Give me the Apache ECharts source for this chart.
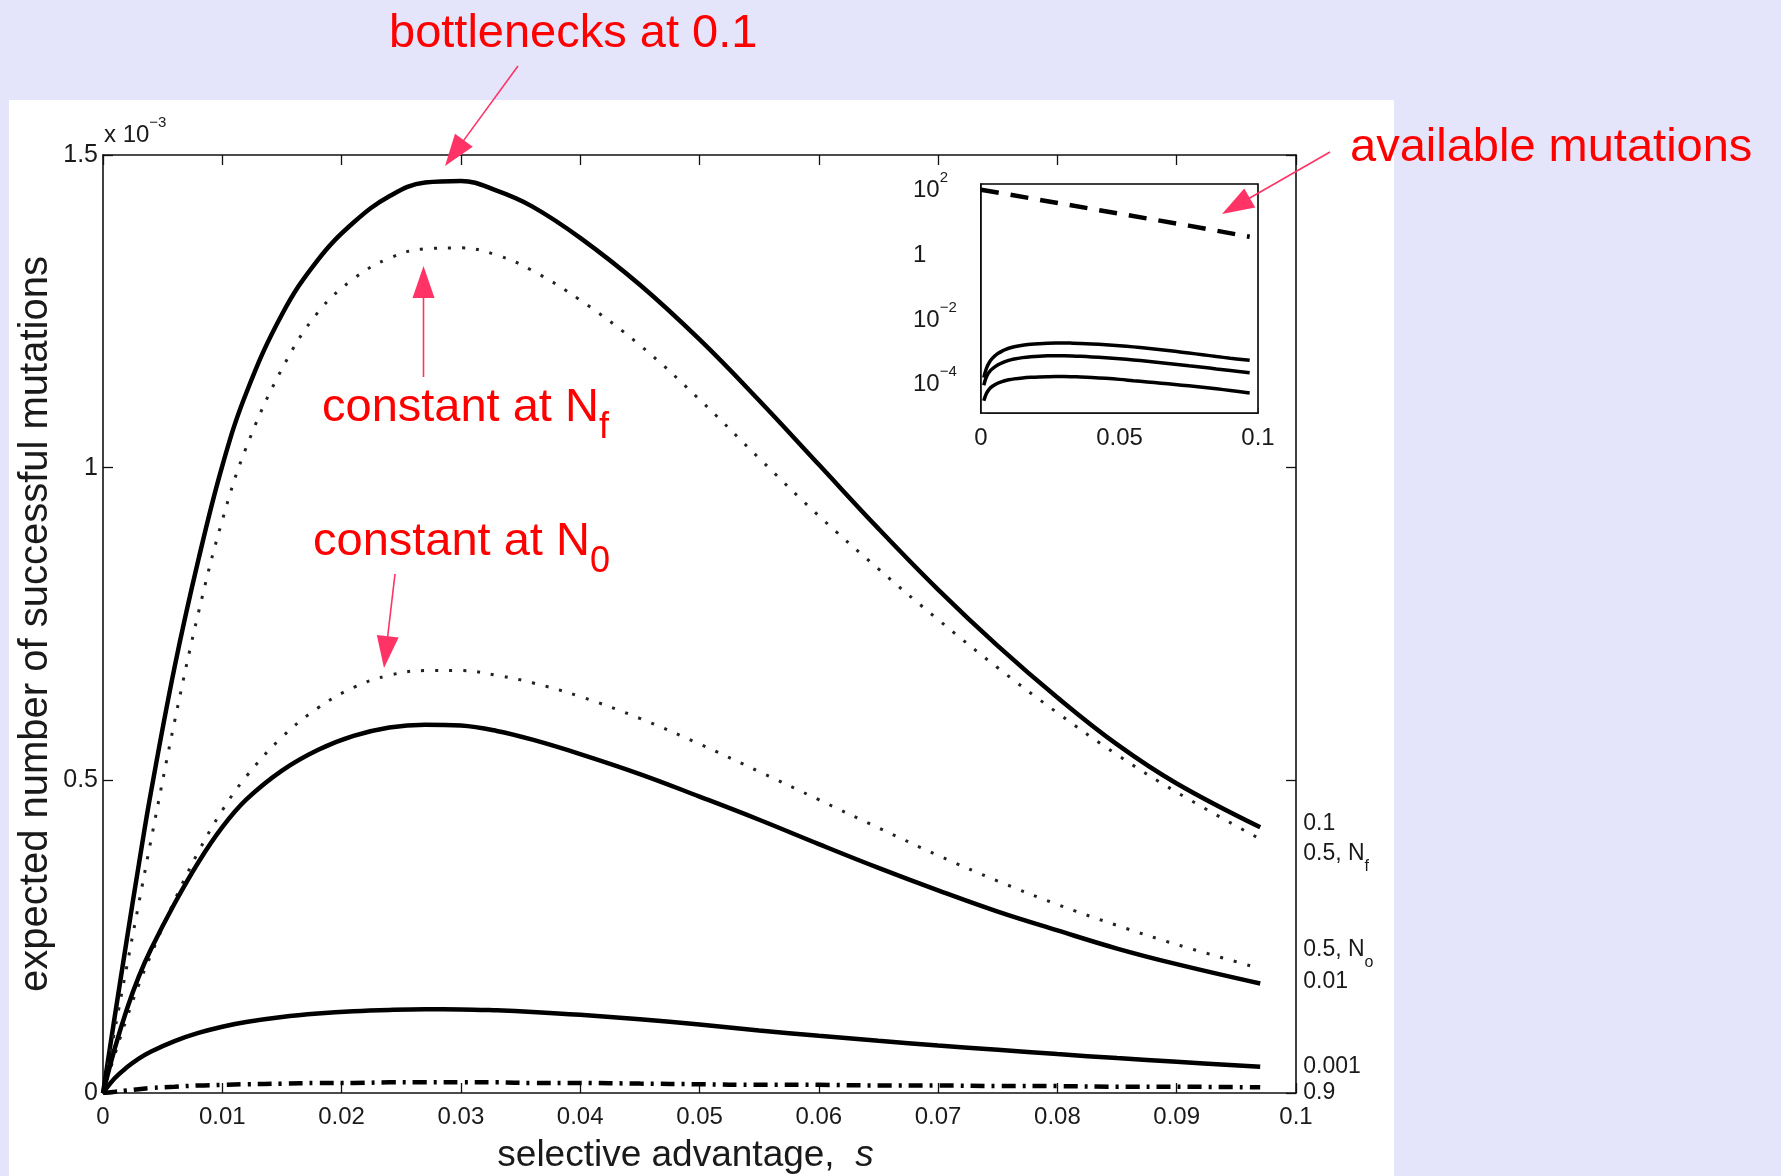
<!DOCTYPE html>
<html><head><meta charset="utf-8">
<script src="https://cdn.jsdelivr.net/npm/echarts@6/dist/echarts.min.js"></script>
<style>
html,body{margin:0;padding:0;background:#E4E4FA;}
#panel{position:absolute;left:9px;top:100px;width:1385px;height:1076px;background:#fff;}
#c{position:absolute;left:0;top:0;width:1781px;height:1176px;}
</style>
</head><body><div id="panel"></div><div id="c"></div>
<script>
// selective advantage s (x values)
const sValues = [0, 0.001, 0.002, 0.003, 0.004, 0.006, 0.008, 0.010, 0.012, 0.015, 0.018, 0.021, 0.024, 0.027, 0.030, 0.033, 0.036, 0.040, 0.045, 0.050, 0.055, 0.060, 0.065, 0.070, 0.075, 0.080, 0.085, 0.090, 0.097];
// expected number of successful mutations (x 10^-3)
const bottleneck01  = [0, 0.124, 0.246, 0.365, 0.479, 0.681, 0.853, 1.003, 1.119, 1.245, 1.332, 1.392, 1.434, 1.456, 1.4585, 1.443, 1.4175, 1.3675, 1.2925, 1.205, 1.1075, 1.005, 0.9025, 0.805, 0.715, 0.6325, 0.5575, 0.495, 0.425];
const constantNf    = [0, 0.102, 0.203, 0.303, 0.402, 0.594, 0.768, 0.916, 1.032, 1.158, 1.248, 1.302, 1.335, 1.35, 1.3515, 1.340, 1.315, 1.268, 1.196, 1.109, 1.015, 0.923, 0.838, 0.757, 0.680, 0.608, 0.541, 0.481, 0.406];
const constantN0    = [0, 0.062, 0.12, 0.173, 0.22, 0.308, 0.386, 0.452, 0.506, 0.569, 0.6155, 0.6485, 0.668, 0.6755, 0.6755, 0.668, 0.656, 0.634, 0.599, 0.558, 0.514, 0.469, 0.424, 0.38, 0.339, 0.3015, 0.268, 0.2375, 0.199];
const bottleneck001 = [0, 0.072, 0.134, 0.186, 0.229, 0.303, 0.369, 0.425, 0.469, 0.5155, 0.5485, 0.571, 0.5845, 0.589, 0.5875, 0.579, 0.565, 0.542, 0.51, 0.474, 0.437, 0.398, 0.36, 0.324, 0.29, 0.26, 0.231, 0.206, 0.175];
const bottleneck0001= [0, 0.024, 0.041, 0.055, 0.066, 0.083, 0.096, 0.106, 0.1135, 0.1215, 0.127, 0.1307, 0.1328, 0.1338, 0.1337, 0.1322, 0.1297, 0.1251, 0.1178, 0.1095, 0.1, 0.0915, 0.0835, 0.076, 0.069, 0.0622, 0.0558, 0.0498, 0.0418];
const bottleneck09  = [0, 0.002, 0.004, 0.006, 0.008, 0.010, 0.012, 0.013, 0.014, 0.015, 0.016, 0.016, 0.017, 0.017, 0.017, 0.017, 0.016, 0.016, 0.015, 0.014, 0.013, 0.013, 0.012, 0.012, 0.011, 0.011, 0.010, 0.010, 0.009];
// inset: available mutations
const insetS = [0, 0.025, 0.05, 0.075, 0.097];
const availableMutations = [80, 34, 14.5, 6.2, 2.8];
// labels
const endLabels = ['0.1', '{m|0.5, N}{s|f}', '{m|0.5, N}{s|o}', '0.01', '0.001', '0.9'];

const FONT = "'Liberation Sans', Arial, Helvetica, sans-serif";
const TXT = '#1a1a1a';
const RED = '#FF0000';
const ARW = '#FF3366';

const pair = arr => sValues.map((s, i) => [s, arr[i]]);
const pairLog = arr => sValues.map((s, i) => [s, arr[i] * 1e-3]).filter(p => p[1] > 0);

const solid = {type: 'solid', width: 4.5, color: '#000'};
const dotted = {type: [3, 11], width: 3, color: '#222', cap: 'butt'};
const dashdot = {type: [14, 7, 3, 7], width: 4.5, color: '#000'};

const labelRich = {
  m: {fontSize: 23, fontFamily: FONT, color: TXT, padding: [0, 0, 9, 0], verticalAlign: 'top'},
  s: {fontSize: 16, fontFamily: FONT, color: TXT, verticalAlign: 'bottom'}
};

function mainSeries(name, data, style, label, dy) {
  return {
    name, type: 'line', xAxisIndex: 0, yAxisIndex: 0, data: pair(data),
    symbol: 'none', smooth: 0.4, smoothConstraint: false, lineStyle: style, z: 3,
    endLabel: {show: true, formatter: label, distance: 43, offset: [0, dy],
      fontSize: 23, fontFamily: FONT, color: TXT, rich: labelRich}
  };
}
function insetSeries(data) {
  return {type: 'line', xAxisIndex: 2, yAxisIndex: 2, data: pairLog(data), symbol: 'none',
    smooth: 0.4, smoothConstraint: false, lineStyle: {type: 'solid', width: 3.5, color: '#000'}, z: 5};
}

function arrow(x1, y1, x2, y2) {
  const L = 32, W = 11;
  const dx = x2 - x1, dy = y2 - y1, d = Math.hypot(dx, dy);
  const ux = dx / d, uy = dy / d;
  const bx = x2 - ux * L, by = y2 - uy * L;
  return [
    {type: 'line', shape: {x1, y1, x2: bx + ux * 4, y2: by + uy * 4}, style: {stroke: ARW, lineWidth: 1.6}, z: 20},
    {type: 'polygon', shape: {points: [[x2, y2], [bx - uy * W, by + ux * W], [bx + uy * W, by - ux * W]]}, style: {fill: ARW}, z: 20}
  ];
}

const supRich = {
  b: {fontSize: 24, fontFamily: FONT, color: TXT, padding: [8, 0, 0, 0], verticalAlign: 'bottom'},
  e: {fontSize: 15, fontFamily: FONT, color: TXT, verticalAlign: 'top'}
};
const supRichG = {
  b: {fontSize: 24, fontFamily: FONT, fill: TXT, padding: [8, 0, 0, 0], verticalAlign: 'bottom'},
  e: {fontSize: 15, fontFamily: FONT, fill: TXT, verticalAlign: 'top'}
};
const redSubRich = {
  m: {fontSize: 47, fontFamily: FONT, fill: RED, padding: [0, 0, 14, 0], verticalAlign: 'top'},
  s: {fontSize: 36, fontFamily: FONT, fill: RED, verticalAlign: 'bottom'}
};

const axLine = {show: true, onZero: false, lineStyle: {color: '#111', width: 1.6}};
const axTick = {show: true, inside: true, length: 10, lineStyle: {color: '#111', width: 1.3}};
const inTick = {show: true, inside: true, length: 5, lineStyle: {color: '#999', width: 1}};

const chart = echarts.init(document.getElementById('c'), null, {renderer: 'canvas'});
chart.setOption({
  animation: false,
  backgroundColor: 'transparent',
  textStyle: {fontFamily: FONT},
  grid: [
    {left: 103, top: 155, width: 1193, height: 938, containLabel: false, outerBoundsMode: 'none'},
    {left: 981, top: 184, width: 277, height: 229, containLabel: false, outerBoundsMode: 'none',
     show: true, borderColor: '#000', borderWidth: 1.6, backgroundColor: '#fff', z: 4}
  ],
  xAxis: [
    {gridIndex: 0, type: 'value', min: 0, max: 0.1, interval: 0.01, position: 'bottom',
     axisLine: axLine, axisTick: axTick,
     axisLabel: {fontSize: 24, color: TXT, fontFamily: FONT, margin: 12},
     splitLine: {show: false},
     name: 'selective advantage,  {i|s}', nameLocation: 'middle', nameGap: 44, nameMoveOverlap: false,
     nameTextStyle: {fontSize: 37, color: TXT, fontFamily: FONT, padding: [0, 28, 0, 0],
       rich: {i: {fontSize: 37, fontStyle: 'italic', color: TXT, fontFamily: FONT}}}},
    {gridIndex: 0, type: 'value', min: 0, max: 0.1, interval: 0.01, position: 'top',
     axisLine: axLine, axisTick: axTick,
     axisLabel: {show: false}, splitLine: {show: false}},
    {gridIndex: 1, type: 'value', min: 0, max: 0.1, interval: 0.05,
     axisLine: axLine, axisTick: inTick,
     axisLabel: {fontSize: 24, color: TXT, fontFamily: FONT, margin: 13},
     splitLine: {show: false}}
  ],
  yAxis: [
    {gridIndex: 0, type: 'value', min: 0, max: 1.5, interval: 0.5, position: 'left',
     axisLine: axLine, axisTick: axTick,
     axisLabel: {fontSize: 25, color: TXT, fontFamily: FONT, margin: 5},
     splitLine: {show: false},
     name: 'expected number of successful mutations', nameLocation: 'middle', nameGap: 47, nameRotate: 90,
     nameMoveOverlap: false,
     nameTextStyle: {fontSize: 40, color: TXT, fontFamily: FONT}},
    {gridIndex: 0, type: 'value', min: 0, max: 1.5, interval: 0.5, position: 'right',
     axisLine: axLine, axisTick: axTick,
     axisLabel: {show: false}, splitLine: {show: false}},
    {gridIndex: 1, type: 'log', logBase: 10, min: 1e-5, max: 120,
     axisLine: axLine, axisTick: inTick,
     axisLabel: {align: 'left', margin: 68, rich: supRich,
       formatter: v => {
         const e = Math.log10(v), r = Math.round(e);
         if (Math.abs(e - r) > 1e-6 || r % 2 !== 0) return '';
         if (r === 0) return '{b|1}';
         return '{b|10}{e|' + (r < 0 ? '\u2212' : '') + Math.abs(r) + '}';
       }},
     splitLine: {show: false}}
  ],
  series: [
    mainSeries('0.1', bottleneck01, solid, endLabels[0], -4),
    mainSeries('0.5, Nf', constantNf, dotted, endLabels[1], 19),
    mainSeries('0.5, No', constantN0, dotted, endLabels[2], -14),
    mainSeries('0.01', bottleneck001, solid, endLabels[3], -2),
    mainSeries('0.001', bottleneck0001, solid, endLabels[4], 0),
    mainSeries('0.9', bottleneck09, dashdot, endLabels[5], 5),
    insetSeries(bottleneck01),
    insetSeries(bottleneck001),
    insetSeries(bottleneck0001),
    {type: 'line', xAxisIndex: 2, yAxisIndex: 2, data: insetS.map((s, i) => [s, availableMutations[i]]),
     symbol: 'none', lineStyle: {type: [18, 12], width: 4.5, color: '#000', cap: 'butt'}, z: 5}
  ],
  graphic: [
    {type: 'text', x: 104, y: 131, z: 20, style: {text: '{b|x 10}{e|\u22123}', rich: supRichG, verticalAlign: 'middle', align: 'left'}},
    {type: 'text', x: 389, y: 34, z: 20, style: {text: 'bottlenecks at 0.1', fontSize: 47, fontFamily: FONT, fill: RED, verticalAlign: 'middle', align: 'left'}},
    {type: 'text', x: 1350, y: 148, z: 20, style: {text: 'available mutations', fontSize: 47, fontFamily: FONT, fill: RED, verticalAlign: 'middle', align: 'left'}},
    {type: 'text', x: 322, y: 385, z: 20, style: {text: '{m|constant at N}{s|f}', rich: redSubRich, fill: RED, verticalAlign: 'top', align: 'left'}},
    {type: 'text', x: 313, y: 519, z: 20, style: {text: '{m|constant at N}{s|0}', rich: redSubRich, fill: RED, verticalAlign: 'top', align: 'left'}},
    ...arrow(518, 66, 445, 166),
    ...arrow(423.5, 377, 423.5, 266),
    ...arrow(395, 574, 384, 668),
    ...arrow(1330, 152, 1222, 214)
  ]
});
</script>
</body></html>
